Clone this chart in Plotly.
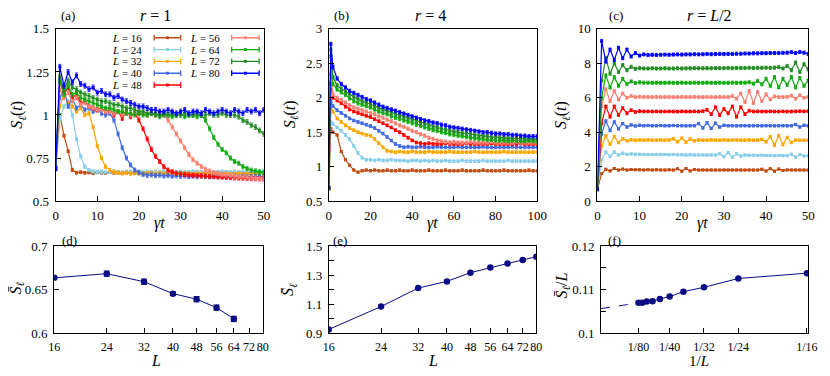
import plotly.graph_objects as go

# the page body keeps its default 8px margin, so the figure is 8px smaller and shifted
OFF = 8
W, H = 830 - OFF, 376 - OFF

# system sizes and colours
L_vals = [16, 24, 32, 40, 48, 56, 64, 72, 80]
colors = ['#c04a10', '#87ceeb', '#ffa500', '#4169e1', '#ff0000',
          '#fa8072', '#11aa11', '#228b22', '#0000ff']

# (a) r = 1, gamma t = 0..50 step 1
a16 = [0.69, 1.00, 0.88, 0.79, 0.68, 0.665, 0.668, 0.664, 0.666, 0.662, 0.667, 0.665, 0.663, 0.668, 0.664, 0.666, 0.661,
       0.665, 0.667, 0.663, 0.666, 0.664, 0.662, 0.667, 0.665, 0.663, 0.666, 0.664, 0.668, 0.662, 0.665, 0.664, 0.666,
       0.663, 0.667, 0.665, 0.662, 0.666, 0.664, 0.665, 0.663, 0.667, 0.664, 0.662, 0.666, 0.665, 0.663, 0.666, 0.664,
       0.665, 0.663]
a24 = [0.69, 0.98, 1.05, 1.08, 1.00, 0.86, 0.76, 0.70, 0.68, 0.672, 0.669, 0.671, 0.668, 0.670, 0.673, 0.669, 0.667,
       0.671, 0.670, 0.668, 0.672, 0.669, 0.671, 0.667, 0.670, 0.668, 0.672, 0.669, 0.670, 0.667, 0.671, 0.669, 0.668,
       0.672, 0.670, 0.668, 0.671, 0.669, 0.667, 0.670, 0.672, 0.668, 0.669, 0.671, 0.667, 0.670, 0.668, 0.671, 0.669,
       0.668, 0.670]
a32 = [0.69, 1.05, 1.12, 1.07, 1.05, 1.02, 1.04, 1.00, 1.01, 0.93, 0.82, 0.75, 0.70, 0.68, 0.67, 0.665, 0.662, 0.664,
       0.660, 0.663, 0.661, 0.659, 0.662, 0.660, 0.658, 0.661, 0.659, 0.662, 0.657, 0.660, 0.658, 0.661, 0.659, 0.656,
       0.660, 0.658, 0.661, 0.657, 0.659, 0.660, 0.657, 0.659, 0.656, 0.658, 0.660, 0.657, 0.659, 0.655, 0.658, 0.657,
       0.656]
a40 = [0.69, 1.10, 1.15, 1.05, 1.10, 1.04, 1.06, 1.03, 1.04, 1.02, 1.03, 1.01, 1.00, 1.01, 0.97, 0.89, 0.81, 0.75,
       0.71, 0.68, 0.665, 0.655, 0.650, 0.652, 0.648, 0.650, 0.646, 0.649, 0.645, 0.647, 0.644, 0.646, 0.643, 0.645,
       0.642, 0.646, 0.644, 0.641, 0.645, 0.643, 0.644, 0.641, 0.643, 0.645, 0.642, 0.644, 0.641, 0.643, 0.642, 0.644,
       0.641]
a48 = [0.69, 1.20, 1.12, 1.16, 1.10, 1.12, 1.07, 1.08, 1.05, 1.04, 1.03, 1.04, 1.02, 1.03, 1.00, 1.02, 0.98, 1.02,
       0.99, 1.01, 0.97, 0.92, 0.86, 0.80, 0.76, 0.73, 0.70, 0.68, 0.67, 0.662, 0.658, 0.655, 0.652, 0.650, 0.648,
       0.646, 0.645, 0.643, 0.642, 0.640, 0.639, 0.638, 0.636, 0.635, 0.634, 0.633, 0.632, 0.631, 0.630, 0.630, 0.629]
a56 = [0.69, 1.15, 1.10, 1.13, 1.08, 1.10, 1.06, 1.07, 1.05, 1.04, 1.03, 1.03, 1.02, 1.02, 1.01, 1.02, 1.00, 1.01,
       1.00, 1.01, 1.00, 1.01, 1.00, 1.01, 1.00, 1.00, 1.00, 0.97, 0.93, 0.89, 0.85, 0.81, 0.77, 0.74, 0.72, 0.70,
       0.685, 0.675, 0.665, 0.660, 0.655, 0.652, 0.648, 0.645, 0.642, 0.640, 0.637, 0.635, 0.633, 0.630, 0.628]
a64 = [0.69, 1.20, 1.12, 1.17, 1.12, 1.13, 1.10, 1.09, 1.08, 1.07, 1.06, 1.05, 1.04, 1.04, 1.03, 1.02, 1.02, 1.01,
       1.01, 1.00, 1.01, 1.00, 1.00, 1.01, 1.00, 0.99, 1.00, 1.00, 0.99, 1.00, 1.01, 0.99, 1.00, 1.00, 0.99, 1.00,
       0.97, 0.92, 0.87, 0.83, 0.80, 0.78, 0.75, 0.73, 0.72, 0.70, 0.69, 0.68, 0.675, 0.67, 0.668]
a72 = [0.69, 1.22, 1.15, 1.20, 1.16, 1.15, 1.13, 1.12, 1.11, 1.10, 1.09, 1.08, 1.08, 1.07, 1.06, 1.06, 1.05, 1.04,
       1.04, 1.03, 1.02, 1.02, 1.01, 1.01, 1.01, 1.00, 1.01, 1.00, 1.01, 1.00, 1.00, 1.01, 1.00, 1.00, 1.01, 1.00,
       1.00, 1.01, 1.00, 1.00, 1.01, 1.00, 1.00, 1.00, 0.99, 0.97, 0.96, 0.94, 0.93, 0.91, 0.89]
a80 = [0.69, 1.28, 1.17, 1.25, 1.19, 1.23, 1.18, 1.17, 1.15, 1.16, 1.13, 1.14, 1.12, 1.12, 1.10, 1.11, 1.09, 1.08,
       1.07, 1.06, 1.05, 1.05, 1.04, 1.03, 1.03, 1.02, 1.02, 1.03, 1.02, 1.01, 1.02, 1.03, 1.01, 1.02, 1.02, 1.01,
       1.03, 1.02, 1.01, 1.02, 1.03, 1.02, 1.01, 1.03, 1.02, 1.01, 1.03, 1.02, 1.03, 1.01, 1.03]
err_a = [0.008, 0.010, 0.010, 0.012, 0.012, 0.012, 0.012, 0.014, 0.014]

# (b) r = 4, gamma t = 0, 1, 2, 4, ..., 100
t_b = [0, 1] + list(range(2, 101, 2))
b16 = [0.69, 1.55, 1.50, 1.46, 1.22, 1.10, 1.02, 0.95, 0.92, 0.94, 0.95, 0.94, 0.95, 0.94, 0.94, 0.95, 0.94, 0.94,
       0.95, 0.94, 0.94, 0.95, 0.94, 0.94, 0.94, 0.95, 0.94, 0.94, 0.94, 0.95, 0.94, 0.94, 0.94, 0.95, 0.94, 0.94,
       0.94, 0.94, 0.95, 0.94, 0.94, 0.94, 0.94, 0.95, 0.94, 0.94, 0.94, 0.94, 0.94, 0.95, 0.94, 0.94]
b24 = [0.69, 1.65, 1.62, 1.57, 1.52, 1.46, 1.40, 1.30, 1.20, 1.13, 1.10, 1.10, 1.09, 1.10, 1.09, 1.09, 1.10, 1.09,
       1.09, 1.09, 1.08, 1.09, 1.09, 1.08, 1.09, 1.08, 1.09, 1.08, 1.08, 1.09, 1.08, 1.08, 1.08, 1.09, 1.08, 1.08,
       1.08, 1.08, 1.09, 1.08, 1.08, 1.08, 1.08, 1.08, 1.09, 1.08, 1.08, 1.08, 1.08, 1.08, 1.08, 1.08]
b32 = [0.69, 1.85, 1.80, 1.70, 1.65, 1.60, 1.56, 1.53, 1.50, 1.48, 1.46, 1.45, 1.40, 1.34, 1.28, 1.23, 1.22, 1.21,
       1.22, 1.21, 1.21, 1.22, 1.21, 1.21, 1.21, 1.22, 1.21, 1.21, 1.21, 1.21, 1.22, 1.21, 1.21, 1.21, 1.21, 1.21,
       1.22, 1.21, 1.21, 1.21, 1.21, 1.21, 1.21, 1.22, 1.21, 1.21, 1.21, 1.21, 1.21, 1.21, 1.21, 1.21]
b40 = [0.69, 1.95, 1.88, 1.82, 1.78, 1.74, 1.70, 1.67, 1.65, 1.63, 1.61, 1.59, 1.56, 1.52, 1.48, 1.43, 1.38, 1.33,
       1.30, 1.28, 1.29, 1.28, 1.28, 1.29, 1.28, 1.28, 1.28, 1.29, 1.28, 1.28, 1.28, 1.28, 1.29, 1.28, 1.28, 1.28,
       1.28, 1.28, 1.29, 1.28, 1.28, 1.28, 1.28, 1.28, 1.28, 1.29, 1.28, 1.28, 1.28, 1.28, 1.28, 1.28]
b48 = [0.69, 2.20, 2.00, 1.96, 1.92, 1.87, 1.83, 1.80, 1.78, 1.76, 1.74, 1.72, 1.69, 1.66, 1.63, 1.60, 1.57, 1.53,
       1.50, 1.46, 1.42, 1.38, 1.35, 1.34, 1.33, 1.34, 1.33, 1.33, 1.33, 1.34, 1.33, 1.33, 1.33, 1.33, 1.34, 1.33,
       1.33, 1.33, 1.33, 1.33, 1.34, 1.33, 1.33, 1.33, 1.33, 1.33, 1.33, 1.34, 1.33, 1.33, 1.33, 1.33]
b56 = [0.69, 2.35, 2.05, 2.00, 1.97, 1.93, 1.89, 1.86, 1.84, 1.82, 1.80, 1.78, 1.76, 1.73, 1.71, 1.68, 1.66, 1.63,
       1.60, 1.58, 1.55, 1.52, 1.50, 1.47, 1.45, 1.42, 1.40, 1.38, 1.37, 1.36, 1.35, 1.36, 1.35, 1.35, 1.35, 1.36,
       1.35, 1.35, 1.35, 1.35, 1.36, 1.35, 1.35, 1.35, 1.35, 1.35, 1.36, 1.35, 1.35, 1.35, 1.35, 1.35]
b64 = [0.69, 2.60, 2.20, 2.12, 2.08, 2.04, 1.99, 1.95, 1.92, 1.90, 1.88, 1.86, 1.83, 1.80, 1.78, 1.76, 1.73, 1.71,
       1.69, 1.67, 1.65, 1.63, 1.61, 1.59, 1.57, 1.55, 1.53, 1.52, 1.50, 1.49, 1.47, 1.46, 1.45, 1.44, 1.43, 1.42,
       1.41, 1.40, 1.40, 1.39, 1.39, 1.38, 1.38, 1.38, 1.37, 1.38, 1.37, 1.37, 1.37, 1.38, 1.37, 1.37]
b72 = [0.69, 2.70, 2.30, 2.18, 2.13, 2.09, 2.05, 2.01, 1.98, 1.95, 1.93, 1.91, 1.88, 1.85, 1.83, 1.81, 1.78, 1.76,
       1.74, 1.72, 1.70, 1.68, 1.66, 1.64, 1.62, 1.60, 1.58, 1.57, 1.55, 1.54, 1.52, 1.51, 1.50, 1.49, 1.48, 1.47,
       1.46, 1.45, 1.45, 1.44, 1.43, 1.43, 1.42, 1.42, 1.41, 1.41, 1.41, 1.40, 1.40, 1.40, 1.40, 1.40]
b80 = [0.69, 2.78, 2.45, 2.28, 2.20, 2.15, 2.10, 2.07, 2.04, 2.01, 1.98, 1.96, 1.93, 1.90, 1.87, 1.85, 1.83, 1.81,
       1.79, 1.77, 1.75, 1.73, 1.71, 1.69, 1.67, 1.66, 1.64, 1.63, 1.61, 1.60, 1.58, 1.57, 1.56, 1.55, 1.54, 1.53,
       1.52, 1.51, 1.50, 1.50, 1.49, 1.48, 1.48, 1.47, 1.47, 1.46, 1.46, 1.45, 1.45, 1.44, 1.44, 1.44]
err_b = [0.015, 0.02, 0.02, 0.02, 0.02, 0.025, 0.025, 0.025, 0.025]

# (c) r = L/2, gamma t = 0..50 step 1
c16 = [0.69, 1.60, 1.85, 1.75, 1.90, 1.80, 1.86, 1.81, 1.83, 1.82, 1.82, 1.81, 1.82, 1.81, 1.82, 1.81, 1.81, 1.82,
       1.80, 1.88, 1.74, 1.90, 1.75, 1.84, 1.80, 1.81, 1.80, 1.81, 1.80, 1.80, 1.81, 1.80, 1.80, 1.81, 1.80, 1.80,
       1.81, 1.80, 1.80, 1.85, 1.75, 1.88, 1.74, 1.86, 1.78, 1.81, 1.80, 1.80, 1.81, 1.80, 1.80]
c24 = [0.69, 2.40, 2.85, 2.60, 2.85, 2.68, 2.78, 2.72, 2.74, 2.72, 2.72, 2.71, 2.70, 2.71, 2.70, 2.70, 2.70, 2.69,
       2.70, 2.69, 2.69, 2.68, 2.69, 2.68, 2.68, 2.68, 2.67, 2.68, 2.67, 2.75, 2.58, 2.82, 2.55, 2.75, 2.62, 2.67,
       2.66, 2.66, 2.65, 2.66, 2.65, 2.65, 2.64, 2.65, 2.64, 2.64, 2.72, 2.55, 2.70, 2.62, 2.63]
c32 = [0.69, 3.20, 3.80, 3.30, 3.75, 3.40, 3.62, 3.50, 3.56, 3.53, 3.55, 3.54, 3.55, 3.54, 3.54, 3.55, 3.54, 3.55,
       3.62, 3.45, 3.65, 3.42, 3.60, 3.50, 3.55, 3.54, 3.54, 3.55, 3.54, 3.54, 3.55, 3.54, 3.54, 3.55, 3.54, 3.54,
       3.55, 3.54, 3.54, 3.58, 3.45, 3.75, 3.25, 3.80, 3.28, 3.70, 3.40, 3.55, 3.54, 3.53, 3.53]
c40 = [0.69, 3.90, 4.65, 4.10, 4.60, 4.20, 4.50, 4.30, 4.42, 4.36, 4.40, 4.38, 4.39, 4.38, 4.38, 4.39, 4.38, 4.38,
       4.39, 4.38, 4.38, 4.37, 4.38, 4.38, 4.50, 4.25, 4.55, 4.22, 4.52, 4.30, 4.40, 4.38, 4.38, 4.37, 4.38, 4.38,
       4.37, 4.38, 4.38, 4.37, 4.38, 4.38, 4.37, 4.38, 4.38, 4.37, 4.38, 4.45, 4.30, 4.40, 4.37]
c48 = [0.69, 4.50, 5.50, 4.90, 5.50, 5.00, 5.40, 5.10, 5.28, 5.18, 5.22, 5.20, 5.21, 5.20, 5.21, 5.20, 5.20, 5.21,
       5.20, 5.20, 5.21, 5.20, 5.20, 5.21, 5.20, 5.22, 5.30, 5.05, 5.45, 5.00, 5.35, 5.10, 5.50, 4.90, 5.45, 5.05,
       5.25, 5.20, 5.21, 5.20, 5.20, 5.21, 5.20, 5.20, 5.21, 5.20, 5.20, 5.21, 5.22, 5.21, 5.22]
c56 = [0.69, 5.50, 6.50, 5.80, 6.40, 5.90, 6.25, 6.00, 6.10, 6.04, 6.06, 6.05, 6.05, 6.04, 6.05, 6.04, 6.04, 6.05,
       6.04, 6.04, 6.05, 6.04, 6.04, 6.05, 6.04, 6.04, 6.05, 6.04, 6.04, 6.05, 6.04, 6.04, 6.10, 5.95, 6.25, 5.75,
       6.40, 5.70, 6.35, 5.80, 6.20, 5.90, 6.08, 6.04, 6.04, 6.05, 6.12, 5.95, 6.15, 6.00, 6.05]
c64 = [0.69, 6.00, 7.30, 6.60, 7.20, 6.70, 7.10, 6.80, 6.95, 6.86, 6.90, 6.88, 6.88, 6.87, 6.88, 6.87, 6.87, 6.88,
       6.87, 6.87, 6.88, 6.87, 6.87, 6.88, 6.87, 6.87, 6.88, 6.87, 6.87, 6.88, 6.87, 6.87, 6.88, 6.87, 6.87, 6.88,
       6.90, 6.82, 6.98, 6.78, 7.10, 6.70, 7.20, 6.60, 7.10, 6.75, 7.20, 6.60, 7.15, 6.70, 7.00]
c72 = [0.69, 7.00, 8.30, 7.40, 8.00, 7.50, 7.90, 7.60, 7.80, 7.68, 7.72, 7.70, 7.70, 7.71, 7.70, 7.70, 7.71, 7.70,
       7.70, 7.71, 7.70, 7.71, 7.71, 7.72, 7.71, 7.71, 7.72, 7.71, 7.72, 7.72, 7.72, 7.73, 7.72, 7.73, 7.73, 7.73,
       7.74, 7.73, 7.74, 7.74, 7.75, 7.74, 7.75, 7.78, 7.70, 7.85, 7.60, 8.05, 7.50, 7.95, 7.65]
c80 = [0.69, 9.30, 8.10, 8.80, 8.20, 8.90, 8.30, 8.80, 8.40, 8.60, 8.45, 8.52, 8.48, 8.50, 8.49, 8.50, 8.51, 8.50,
       8.51, 8.52, 8.51, 8.52, 8.52, 8.53, 8.52, 8.53, 8.54, 8.53, 8.54, 8.55, 8.54, 8.55, 8.55, 8.56, 8.56, 8.57,
       8.57, 8.58, 8.58, 8.59, 8.59, 8.60, 8.60, 8.60, 8.61, 8.62, 8.65, 8.60, 8.66, 8.62, 8.55]
err_c = [0.05, 0.06, 0.07, 0.07, 0.08, 0.08, 0.09, 0.09, 0.09]

# (d) time-averaged entropy, r = 1
d_L = [16, 24, 32, 40, 48, 56, 64]
d_S = [0.6637, 0.6685, 0.6593, 0.6456, 0.6393, 0.6296, 0.6167]
d_err = [0.002, 0.003, 0.003, 0.002, 0.003, 0.003, 0.003]

# (e) time-averaged entropy, r = 4
e_L = [16, 24, 32, 40, 48, 56, 64, 72, 80]
e_S = [0.928, 1.085, 1.212, 1.258, 1.318, 1.354, 1.381, 1.405, 1.428]

# (f) S/L versus 1/L, r = L/2
f_L = [88, 80, 72, 64, 56, 48, 40, 32, 24, 16]
f_S = [0.10702, 0.10705, 0.10732, 0.10740, 0.10792, 0.10845, 0.10958, 0.11057, 0.11260, 0.11381]
fit_invL = [0.0, 1 / 88]
fit_S = [0.1057, 0.1070]
f_tickvals = [1 / 88, 1 / 48, 1 / 32, 1 / 24, 1 / 16]
f_ticktext = ['1/80', '1/40', '1/32', '1/24', '1/16']

L_ticks = [16, 24, 32, 40, 48, 56, 64, 72, 80]

navy = '#0c0c86'
FONT = 'Liberation Serif'


# positions below are window pixels, converted to paper fractions
def pxx(x):
    return (x - OFF) / W


def pxy(y):
    return 1 - (y - OFF) / H


fig = go.Figure()

panels = [
    ('x', 'y', [list(range(len(s))) for s in [a16, a24, a32, a40, a48, a56, a64, a72, a80]],
     [a16, a24, a32, a40, a48, a56, a64, a72, a80], err_a),
    ('x2', 'y2', [t_b[:len(s)] for s in [b16, b24, b32, b40, b48, b56, b64, b72, b80]],
     [b16, b24, b32, b40, b48, b56, b64, b72, b80], err_b),
    ('x3', 'y3', [list(range(len(s))) for s in [c16, c24, c32, c40, c48, c56, c64, c72, c80]],
     [c16, c24, c32, c40, c48, c56, c64, c72, c80], err_c),
]
for xa, ya, xs, ys, errs in panels:
    for L, x, y, e, col in zip(L_vals, xs, ys, errs, colors):
        fig.add_trace(go.Scatter(
            x=x, y=y, mode='lines+markers', xaxis=xa, yaxis=ya, showlegend=False,
            line=dict(color=col, width=1.2), marker=dict(size=3, color=col, symbol='square'),
            error_y=dict(type='constant', value=e, color=col, thickness=0.8, width=1.5),
            name=f'L = {L}'))

fig.add_trace(go.Scatter(x=d_L, y=d_S, mode='lines+markers', xaxis='x4', yaxis='y4', showlegend=False,
                         line=dict(color=navy, width=1), marker=dict(size=6.5, color=navy),
                         error_y=dict(type='data', array=d_err, color=navy, thickness=1, width=3)))
fig.add_trace(go.Scatter(x=e_L, y=e_S, mode='lines+markers', xaxis='x5', yaxis='y5', showlegend=False,
                         line=dict(color=navy, width=1), marker=dict(size=6.5, color=navy)))
fig.add_trace(go.Scatter(x=fit_invL, y=fit_S, mode='lines', xaxis='x6', yaxis='y6', showlegend=False,
                         line=dict(color=navy, width=1, dash='dash')))
fig.add_trace(go.Scatter(x=[1 / L for L in f_L], y=f_S, mode='lines+markers', xaxis='x6', yaxis='y6',
                         showlegend=False, line=dict(color=navy, width=1), marker=dict(size=6.5, color=navy)))


def axis(dom, standoff=3, size=13, **kw):
    d = dict(domain=dom, showline=True, mirror=True, linecolor='black', linewidth=1,
             ticks='inside', ticklen=5, tickcolor='black', showgrid=False, zeroline=False,
             ticklabelstandoff=standoff, tickangle=0,
             tickfont=dict(family=FONT, size=size, color='black'))
    d.update(kw)
    return d


minor_in = dict(ticks='inside', ticklen=5, tickcolor='black')
top_y = [pxy(202), pxy(22.5)]
bot_y = [pxy(340), pxy(249)]
fig.update_layout(
    width=W, height=H, margin=dict(l=0, r=0, t=0, b=0),
    paper_bgcolor='white', plot_bgcolor='white', showlegend=False,
    font=dict(family=FONT, size=13, color='black'),
    xaxis=axis([pxx(50.5), pxx(262.7)], 2, range=[0, 50], tickvals=[0, 10, 20, 30, 40, 50], anchor='y'),
    yaxis=axis(top_y, range=[0.5, 1.5], tickvals=[0.5, 0.75, 1, 1.25, 1.5],
               ticktext=['0.5', '0.75', '1', '1.25', '1.5'], anchor='x'),
    xaxis2=axis([pxx(329), pxx(541.7)], 2, range=[0, 100], tickvals=[0, 20, 40, 60, 80, 100], anchor='y2'),
    yaxis2=axis(top_y, range=[0.5, 3], tickvals=[0.5, 1, 1.5, 2, 2.5, 3],
                ticktext=['0.5', '1', '1.5', '2', '2.5', '3'], anchor='x2'),
    xaxis3=axis([pxx(603), pxx(818)], 2, range=[0, 50], tickvals=[0, 10, 20, 30, 40, 50], anchor='y3'),
    yaxis3=axis(top_y, range=[0, 10], tickvals=[0, 2, 4, 6, 8, 10], anchor='x3'),
    xaxis4=axis([pxx(49), pxx(261.7)], 2, 12, type='log', range=[1.20412, 1.90309],
                tickvals=L_ticks, ticktext=[str(v) for v in L_ticks], anchor='y4'),
    yaxis4=axis(bot_y, range=[0.6, 0.7], tickvals=[0.6, 0.65, 0.7], ticktext=['0.6', '0.65', '0.7'],
                anchor='x4'),
    xaxis5=axis([pxx(329), pxx(540.7)], 2, 12, type='log', range=[1.20412, 1.90309],
                tickvals=L_ticks, ticktext=[str(v) for v in L_ticks], anchor='y5'),
    yaxis5=axis(bot_y, range=[0.9, 1.5], tickvals=[0.9, 1.1, 1.3, 1.5],
                minor=dict(tickvals=[1.0, 1.2, 1.4], **minor_in), anchor='x5'),
    xaxis6=axis([pxx(606.7), pxx(818)], 2, 12, range=[0, 0.0629], tickvals=f_tickvals, ticktext=f_ticktext,
                anchor='y6'),
    yaxis6=axis(bot_y, range=[0.1, 0.12], tickvals=[0.1, 0.11, 0.12], ticktext=['0.1', '0.11', '0.12'],
                minor=dict(tickvals=[0.105, 0.115], **minor_in), anchor='x6'),
)

ann = []


def text(x, y, s, size=13, angle=0, xanchor='center'):
    ann.append(dict(x=pxx(x), y=pxy(y), xref='paper', yref='paper', text=s, showarrow=False,
                    textangle=angle, xanchor=xanchor, yanchor='middle',
                    font=dict(family=FONT, size=size, color='black')))


# panel labels and titles
for lab, x, y in [('(a)', 63, 9), ('(b)', 342, 9), ('(c)', 622, 9),
                  ('(d)', 65, 243), ('(e)', 340, 243), ('(f)', 620, 243)]:
    text(x, y, lab, 13)
text(152, 9, '<i>r</i> = 1', 16)
text(433, 9, '<i>r</i> = 4', 16)
text(717, 9, '<i>r</i> = <i>L</i>/2', 16)

# axis titles
S_t = '<i>S</i><sub><i>ℓ</i></sub>(<i>t</i>)'
S_bar = '<i>S̄</i><sub><i>ℓ</i></sub>'
for x in [12, 290, 567]:
    text(x, 112, S_t, 16, angle=-90)
for x in [156, 435, 710]:
    text(x, 225, '<i>γt</i>', 16)
text(10, 292, S_bar, 16, angle=-90)
text(288, 294, S_bar, 16, angle=-90)
text(567, 290, S_bar + '/<i>L</i>', 16, angle=-90)
text(153, 368, '<i>L</i>', 16)
text(435, 368, '<i>L</i>', 16)
text(707, 369, '1/<i>L</i>', 15)

# legend of panel (a): text, then a line sample with end caps
shapes = []
rows = [31.7, 44, 56.3, 68.7, 81]
for i, (L, col) in enumerate(zip(L_vals, colors)):
    c = 0 if i < 5 else 1
    yr = rows[i if c == 0 else i - 5]
    tx, s0, s1 = (141, 151, 178) if c == 0 else (220, 230, 258)
    text(tx, yr, f'<i>L</i> = {L}', 11, xanchor='right')
    x0, x1 = pxx(s0), pxx(s1)
    yc, yt, yb = pxy(yr), pxy(yr - 3), pxy(yr + 3)
    shapes.append(dict(type='path', xref='paper', yref='paper',
                       path=f'M {x0},{yt} L {x0},{yb} M {x0},{yc} L {x1},{yc} M {x1},{yt} L {x1},{yb}',
                       line=dict(color=col, width=1.3)))
    xm = pxx((s0 + s1) / 2)
    shapes.append(dict(type='rect', xref='paper', yref='paper', x0=xm - 1.5 / W, x1=xm + 1.5 / W,
                       y0=yc - 1.5 / H, y1=yc + 1.5 / H, fillcolor=col, line=dict(color=col, width=0)))

fig.update_layout(annotations=ann, shapes=shapes)
fig.write_html('out.html')
